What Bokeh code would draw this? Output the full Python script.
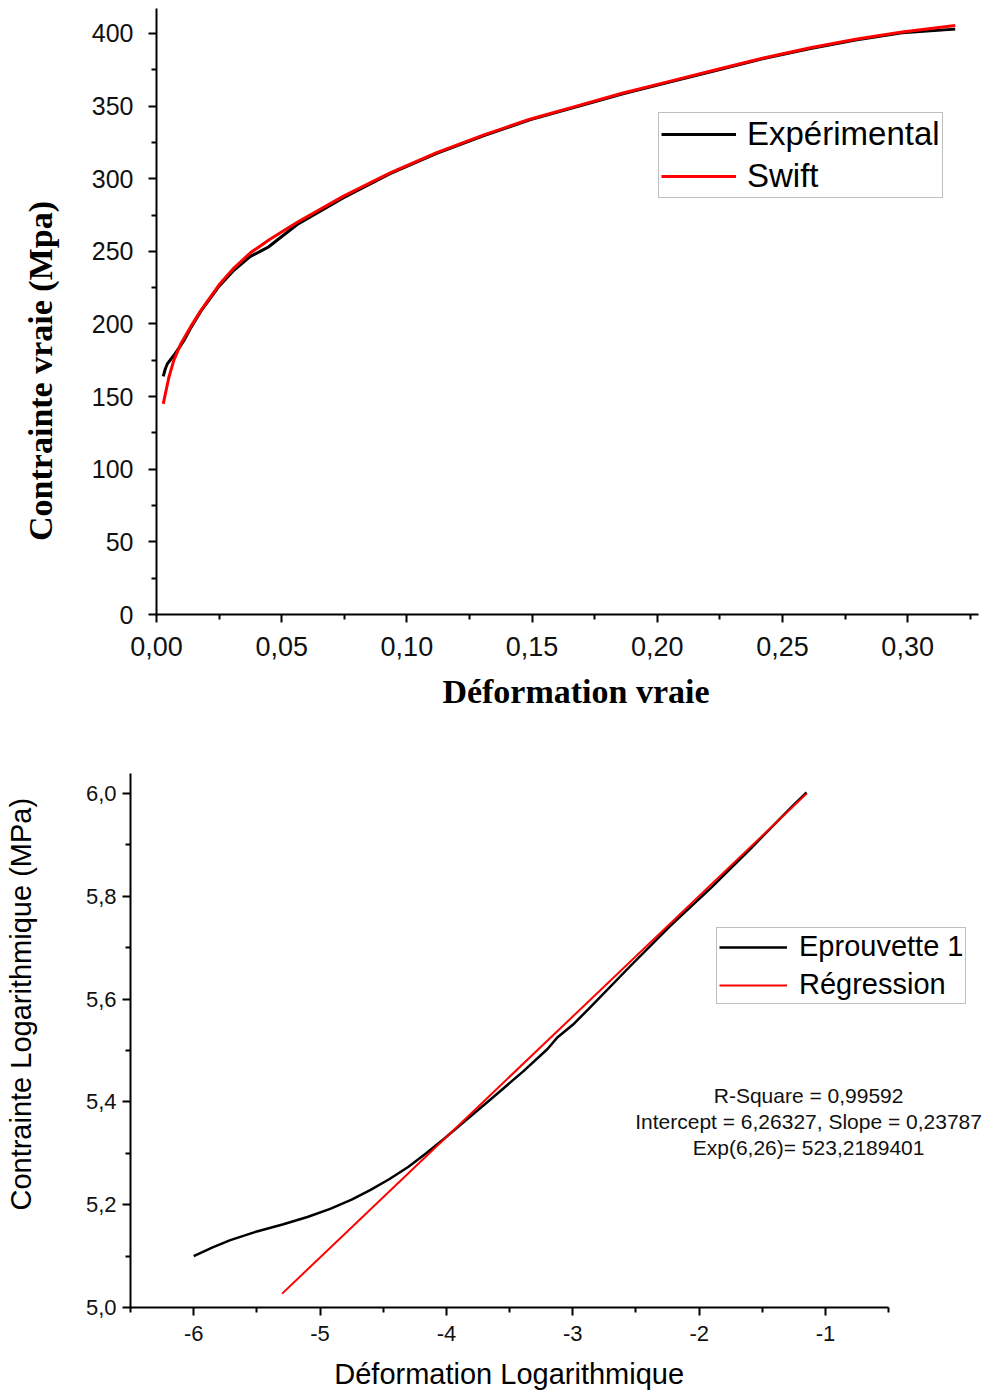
from bokeh.plotting import figure
from bokeh.models import (FixedTicker, CustomJSTickFormatter, Legend, LegendItem,
                          Label, Range1d)
from bokeh.embed import file_html
from bokeh.resources import INLINE

# ---------------- Top chart data (true strain / true stress) ----------------
eps_exp = [0.0027, 0.0035, 0.0043, 0.0069, 0.0090, 0.0109, 0.0136, 0.0176, 0.0250,
           0.0309, 0.0375, 0.0420, 0.0447, 0.0480, 0.0562, 0.0747, 0.0933, 0.1119,
           0.1305, 0.1491, 0.1677, 0.1863, 0.2049, 0.2234, 0.2420, 0.2607, 0.2792,
           0.2978, 0.3190]
sig_exp = [164.0, 169.0, 172.5, 178.3, 183.5, 188.5, 197.0, 208.5, 226.0,
           237.0, 246.5, 250.5, 253.0, 257.5, 268.5, 287.0, 303.5, 317.5,
           329.5, 340.5, 349.5, 358.5, 366.5, 374.5, 382.5, 389.5, 395.5,
           400.5, 403.0]

eps_swift = [0.0027, 0.0049, 0.0069, 0.0096, 0.0136, 0.0176, 0.0250, 0.0309, 0.0375,
             0.0450, 0.0562, 0.0747, 0.0933, 0.1119, 0.1305, 0.1491, 0.1677, 0.1863,
             0.2049, 0.2234, 0.2420, 0.2607, 0.2792, 0.2978, 0.3190]
sig_swift = [145.0, 163.0, 175.0, 186.0, 198.0, 209.0, 227.0, 238.5, 249.0,
             258.0, 270.0, 288.0, 304.0, 318.0, 330.0, 341.0, 350.0, 359.0,
             367.0, 375.0, 383.0, 390.0, 396.0, 401.0, 405.5]

top_xticks = [0.0, 0.05, 0.10, 0.15, 0.20, 0.25, 0.30]
top_xminor = [0.025, 0.075, 0.125, 0.175, 0.225, 0.275, 0.325]
top_yticks = [0, 50, 100, 150, 200, 250, 300, 350, 400]
top_yminor = [25, 75, 125, 175, 225, 275, 325, 375]

# ---------------- Bottom chart data (log strain / log stress) ----------------
ln_eps_exp = [-6.00, -5.85, -5.71, -5.50, -5.29, -5.10, -4.92, -4.75, -4.60, -4.45,
              -4.30, -4.16, -4.03, -3.90, -3.64, -3.39, -3.20, -3.12, -3.00, -2.87,
              -2.55, -2.23, -1.90, -1.58, -1.26, -1.15]
ln_sig_exp = [5.100, 5.117, 5.131, 5.148, 5.162, 5.176, 5.192, 5.210, 5.229, 5.250,
              5.274, 5.300, 5.326, 5.353, 5.407, 5.460, 5.503, 5.526, 5.550, 5.582,
              5.663, 5.742, 5.818, 5.896, 5.976, 6.002]
ln_eps_reg = [-5.30, -1.15]
ln_sig_reg = [5.027, 6.000]

bot_xticks = [-6, -5, -4, -3, -2, -1]
bot_xminor = [-6.5, -5.5, -4.5, -3.5, -2.5, -1.5, -0.5]
bot_yticks = [5.0, 5.2, 5.4, 5.6, 5.8, 6.0]
bot_yminor = [5.1, 5.3, 5.5, 5.7, 5.9]

stats_lines = ["R-Square = 0,99592",
               "Intercept = 6,26327, Slope = 0,23787",
               "Exp(6,26)= 523,2189401"]

SANS = "Liberation Sans"
SERIF = "Liberation Serif"
NB = "\u00a0"  # non-breaking space used to shift axis titles off-centre


def style_axis(ax, tick_font_size, major_out=8, minor_out=5, standoff=10,
               label_standoff=10):
    ax.axis_line_color = "black"
    ax.axis_line_width = 2
    ax.major_tick_line_color = "black"
    ax.major_tick_line_width = 2
    ax.major_tick_in = 0
    ax.major_tick_out = major_out
    ax.minor_tick_line_color = "black"
    ax.minor_tick_line_width = 2
    ax.minor_tick_in = 0
    ax.minor_tick_out = minor_out
    ax.major_label_text_font = SANS
    ax.major_label_text_font_size = tick_font_size
    ax.major_label_text_color = "#111111"
    ax.major_label_standoff = standoff
    ax.axis_label_standoff = label_standoff


# ---------------- Top figure ----------------
p1 = figure(frame_width=822, frame_height=606, output_backend="svg",
            toolbar_location=None, x_range=Range1d(0, 0.3283),
            y_range=Range1d(0, 417.2))
p1.min_border_left = 156
p1.min_border_right = 6
p1.min_border_top = 8
p1.min_border_bottom = 110
p1.outline_line_color = None
p1.xgrid.visible = False
p1.ygrid.visible = False

r_exp = p1.line(eps_exp, sig_exp, line_color="black", line_width=3, line_join="round")
r_swift = p1.line(eps_swift, sig_swift, line_color="#ff0000", line_width=3,
                  line_join="round")

p1.xaxis.ticker = FixedTicker(ticks=top_xticks, minor_ticks=top_xminor)
p1.yaxis.ticker = FixedTicker(ticks=top_yticks, minor_ticks=top_yminor)
p1.xaxis.formatter = CustomJSTickFormatter(code="return tick.toFixed(2).replace('.', ',');")
p1.yaxis.formatter = CustomJSTickFormatter(code="return tick.toFixed(0);")
style_axis(p1.xaxis[0], "27px", standoff=14, label_standoff=14)
style_axis(p1.yaxis[0], "25px", standoff=15, label_standoff=30)
p1.xaxis.axis_label = NB * 2 + "Déformation vraie"
p1.yaxis.axis_label = "Contrainte vraie (Mpa)" + NB * 14
for ax in (p1.xaxis[0], p1.yaxis[0]):
    ax.axis_label_text_font = SERIF
    ax.axis_label_text_font_style = "bold"
    ax.axis_label_text_font_size = "34px"
    ax.axis_label_text_color = "black"

leg1 = Legend(items=[LegendItem(label="Expérimental", renderers=[r_exp]),
                     LegendItem(label="Swift", renderers=[r_swift])],
              location=(502, 416))
leg1.label_text_font = SANS
leg1.label_text_font_size = "33px"
leg1.label_text_color = "black"
leg1.glyph_width = 75
leg1.glyph_height = 36
leg1.label_height = 36
leg1.label_standoff = 11
leg1.padding = 2
leg1.spacing = 4
leg1.margin = 0
leg1.border_line_color = "#808080"
leg1.border_line_width = 1
leg1.background_fill_color = "white"
leg1.background_fill_alpha = 1
p1.add_layout(leg1)

# ---------------- Bottom figure ----------------
p2 = figure(frame_width=854, frame_height=534, output_backend="svg",
            toolbar_location=None, x_range=Range1d(-6.5, 0.258),
            y_range=Range1d(5.0, 6.039))
p2.min_border_left = 130
p2.min_border_right = 0
p2.min_border_top = 49
p2.min_border_bottom = 90
p2.outline_line_color = None
p2.xgrid.visible = False
p2.ygrid.visible = False

r_ln = p2.line(ln_eps_exp, ln_sig_exp, line_color="black", line_width=2.5,
               line_join="round")
r_reg = p2.line(ln_eps_reg, ln_sig_reg, line_color="#ff0000", line_width=2)

p2.xaxis.ticker = FixedTicker(ticks=bot_xticks, minor_ticks=bot_xminor)
p2.yaxis.ticker = FixedTicker(ticks=bot_yticks, minor_ticks=bot_yminor)
p2.xaxis.formatter = CustomJSTickFormatter(code="return tick.toFixed(0);")
p2.yaxis.formatter = CustomJSTickFormatter(code="return tick.toFixed(1).replace('.', ',');")
p2.xaxis.bounds = (-6.5, -0.5)
style_axis(p2.xaxis[0], "22px", standoff=10, label_standoff=14)
style_axis(p2.yaxis[0], "22px", standoff=6, label_standoff=46)
p2.xaxis.axis_label = "Déformation Logarithmique" + NB * 12
p2.yaxis.axis_label = NB * 9 + "Contrainte Logarithmique (MPa)"
for ax in (p2.xaxis[0], p2.yaxis[0]):
    ax.axis_label_text_font = SANS
    ax.axis_label_text_font_style = "normal"
    ax.axis_label_text_font_size = "29px"
    ax.axis_label_text_color = "black"

leg2 = Legend(items=[LegendItem(label="Eprouvette 1", renderers=[r_ln]),
                     LegendItem(label="Régression", renderers=[r_reg])],
              location=(586, 303))
leg2.label_text_font = SANS
leg2.label_text_font_size = "29px"
leg2.label_text_color = "black"
leg2.glyph_width = 68
leg2.glyph_height = 32
leg2.label_height = 32
leg2.label_standoff = 12
leg2.padding = 2
leg2.spacing = 5
leg2.margin = 0
leg2.border_line_color = "#808080"
leg2.border_line_width = 1
leg2.background_fill_color = "white"
leg2.background_fill_alpha = 1
p2.add_layout(leg2)

stats_y = [5.4125, 5.362, 5.311]
for txt, yy in zip(stats_lines, stats_y):
    p2.add_layout(Label(x=-1.134, y=yy, text=txt, text_align="center",
                        text_baseline="middle", text_font=SANS,
                        text_font_size="21px", text_color="#111111"))

open("out.html", "w").write(file_html([p1, p2], INLINE))
